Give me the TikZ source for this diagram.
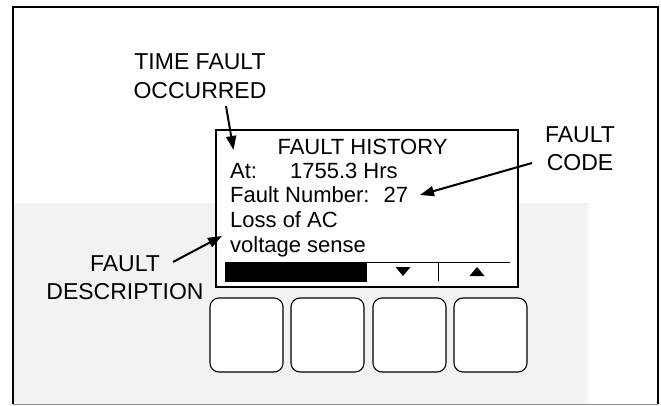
\documentclass[tikz,border=0pt]{standalone}
\usepackage{fontspec}
\setsansfont{Liberation Sans}
\usetikzlibrary{arrows.meta}
\definecolor{PanelInk}{gray}{0}
\definecolor{ShadeFill}{gray}{0.95}
\definecolor{ShadeEdge}{gray}{0.975}
\definecolor{BaseLine}{gray}{0.55}
\tikzset{
  figure/.style={x=1pt,y=-1pt,font=\sffamily,text=PanelInk},
  callout/.style={font=\sffamily\fontsize{23}{28.5}\selectfont,align=center,inner sep=0pt},
  screentext/.style={font=\sffamily\fontsize{22}{24}\selectfont,inner sep=0pt,anchor=base west},
  pointer/.style={-{Triangle[length=14pt,width=10pt]},line width=2pt,draw=PanelInk},
  softkey/.style={draw=PanelInk,line width=1.1pt,rounded corners=9pt,fill=white,
    minimum width=73pt,minimum height=74pt,inner sep=0pt},
}

\begin{document}
\begin{tikzpicture}[figure]
  \useasboundingbox (0,0) rectangle (661,406);
  \fill[ShadeFill] (13,203) rectangle (586,404);
  \fill[ShadeEdge] (586,203) rectangle (590,404);
  \draw[line width=2pt] (12.5,404) -- (12.5,7) -- (658,7) -- (658,404);
  \draw[BaseLine,line width=1pt] (12.5,404.5) -- (658,404.5);

  % display window
  \draw[line width=1.5pt,fill=white] (216,130) rectangle (518,287);
  \draw[line width=1pt] (225,262) -- (510,262);
  \fill (225,263) rectangle (367,282);
  \draw[line width=1pt] (438,262) -- (438,281);
  \fill (395.5,267) -- (410.5,267) -- (403,276) -- cycle;
  \fill (469.5,276) -- (484.5,276) -- (477,267) -- cycle;

  \node[screentext,anchor=base] (title) at (362.5,155) {FAULT HISTORY};
  \node[screentext] (hours) at (230,179) {At:\hspace{33pt}1755.3 Hrs};
  \node[screentext] (faultno) at (230,203) {Fault Number:\hspace{14pt}27};
  \node[screentext] (lossline) at (230,227) {Loss of AC};
  \node[screentext] (senseline) at (230,252) {voltage sense};

  % soft keys
  \node[softkey] (keyA) at (246.5,335) {};
  \node[softkey] (keyB) at (327.5,335) {};
  \node[softkey] (keyC) at (409.5,335) {};
  \node[softkey] (keyD) at (490.5,335) {};

  % call-outs
  \node[callout] (timelabel) at (200,76.2) {TIME FAULT\\OCCURRED};
  \node[callout] (codelabel) at (580,148.7) {FAULT\\CODE};
  \node[callout] (desclabel) at (125,277.7) {FAULT\\DESCRIPTION};

  \coordinate (timetail) at (226,106);
  \coordinate (timetip) at (233.5,150);
  \coordinate (codetail) at (532,163);
  \coordinate (codetip) at (420,195);
  \coordinate (desctail) at (173,262);
  \coordinate (desctip) at (222,236);

  \draw[pointer] (timetail) -- (timetip);
  \draw[pointer] (codetail) -- (codetip);
  \draw[pointer] (desctail) -- (desctip);
\end{tikzpicture}
\end{document}
